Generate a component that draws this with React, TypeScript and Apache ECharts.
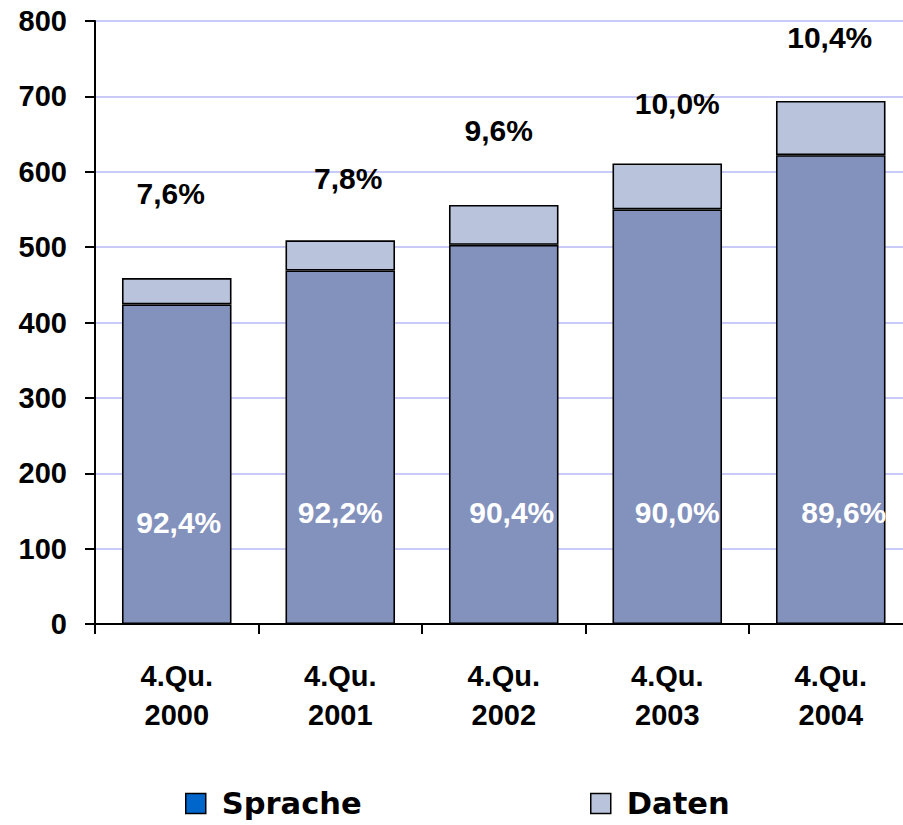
import React, { useEffect, useRef } from "react";
import * as echarts from "echarts";

const categories = ["4.Qu.\n2000", "4.Qu.\n2001", "4.Qu.\n2002", "4.Qu.\n2003", "4.Qu.\n2004"];
const sprache = [424, 469, 503, 550, 622];
const daten = [35, 40, 53, 61, 72];
const spracheLabels = ["92,4%", "92,2%", "90,4%", "90,0%", "89,6%"];
const datenLabels = ["7,6%", "7,8%", "9,6%", "10,0%", "10,4%"];
const seriesNames = ["Sprache", "Daten"];

const spracheLabelOffsets = [[2, 10], [0, 0], [8, 0], [10, 0], [13, 0]];
const datenLabelOffsets = [[-6, -70], [8, -47], [-5, -59], [10, -45], [-1, -48]];

const FONT = "'Liberation Sans', Arial, sans-serif";

export default function App() {
  const ref = useRef<HTMLDivElement>(null);
  useEffect(() => {
    if (!ref.current) return;
    const chart = echarts.init(ref.current, null, { renderer: "svg" });
    const legendText = {
      fontFamily: "'DejaVu Sans', sans-serif",
      fontWeight: "bold",
      fontSize: 30.5,
      lineHeight: 30,
      color: "#000",
      padding: [0, 0, 0, 11],
    };
    chart.setOption({
      animation: false,
      backgroundColor: "#fff",
      grid: { left: 95, top: 21, width: 817.5, height: 603, containLabel: false },
      legend: [
        {
          left: 180,
          top: 783,
          padding: 5,
          itemWidth: 20,
          itemHeight: 20,
          icon: "rect",
          textStyle: legendText,
          data: [{ name: seriesNames[0], itemStyle: { color: "#0066CC", borderColor: "#000", borderWidth: 1.5 } }],
        },
        {
          left: 585,
          top: 783,
          padding: 5,
          itemWidth: 20,
          itemHeight: 20,
          icon: "rect",
          textStyle: legendText,
          data: [{ name: seriesNames[1], itemStyle: { color: "#B9C3DC", borderColor: "#000", borderWidth: 1.5 } }],
        },
      ],
      xAxis: {
        type: "category",
        data: categories,
        boundaryGap: true,
        axisLine: { lineStyle: { color: "#000", width: 2 } },
        axisTick: { show: true, length: 10, alignWithLabel: false, lineStyle: { color: "#000", width: 2 } },
        axisLabel: {
          margin: 32,
          color: "#000",
          fontFamily: FONT,
          fontWeight: "bold",
          fontSize: 29,
          lineHeight: 39,
          interval: 0,
        },
        splitLine: { show: false },
      },
      yAxis: {
        type: "value",
        min: 0,
        max: 800,
        interval: 100,
        axisLine: { show: true, lineStyle: { color: "#000", width: 2 } },
        axisTick: { show: true, length: 10, lineStyle: { color: "#000", width: 2 } },
        axisLabel: {
          margin: 28,
          color: "#000",
          fontFamily: FONT,
          fontWeight: "bold",
          fontSize: 29,
        },
        splitLine: { show: true, lineStyle: { color: "#CACAF8", width: 2 } },
      },
      series: [
        {
          name: seriesNames[0],
          type: "bar",
          stack: "total",
          barWidth: "67%",
          itemStyle: { color: "#8391BD", borderColor: "#000", borderWidth: 1.6 },
          label: {
            show: true,
            position: "insideBottom",
            distance: 97,
            color: "#fff",
            fontFamily: FONT,
            fontWeight: "bold",
            fontSize: 30,
            lineHeight: 30,
          },
          data: sprache.map((v, i) => ({
            value: v,
            label: { formatter: spracheLabels[i], offset: spracheLabelOffsets[i] },
          })),
        },
        {
          name: seriesNames[1],
          type: "bar",
          stack: "total",
          barWidth: "67%",
          itemStyle: { color: "#B9C3DC", borderColor: "#000", borderWidth: 1.6 },
          label: {
            show: true,
            position: "top",
            distance: 0,
            color: "#000",
            fontFamily: FONT,
            fontWeight: "bold",
            fontSize: 30,
            lineHeight: 30,
          },
          data: daten.map((v, i) => ({
            value: v,
            label: { formatter: datenLabels[i], offset: datenLabelOffsets[i] },
          })),
        },
      ],
    });
    return () => chart.dispose();
  }, []);
  return (
    <div style={{ position: "fixed", left: 0, top: 0, width: 903, height: 825, overflow: "hidden", background: "#fff" }}>
      <div ref={ref} style={{ width: 913, height: 825 }} />
    </div>
  );
}
